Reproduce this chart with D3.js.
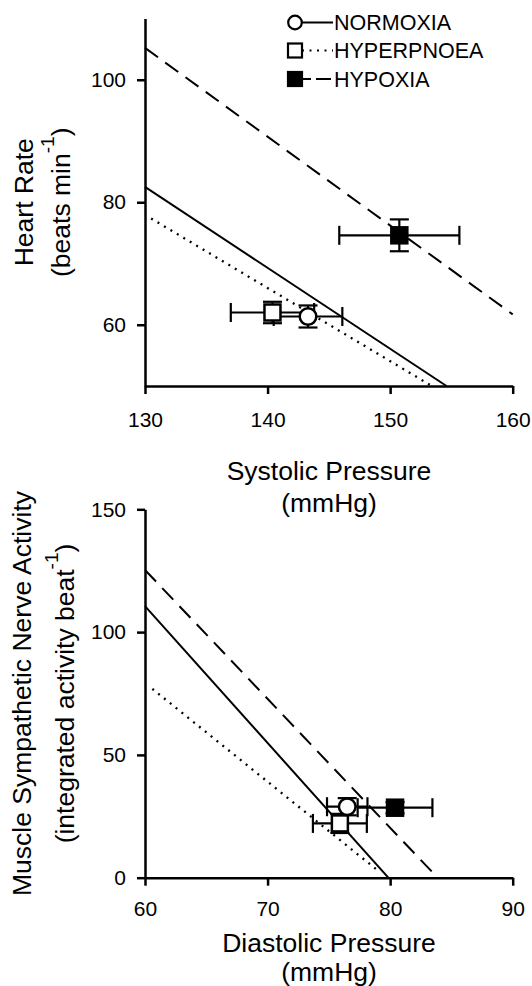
<!DOCTYPE html>
<html>
<head>
<meta charset="utf-8">
<script src="https://cdn.jsdelivr.net/npm/d3@7"></script>
<style>
body { margin: 0; background: #fff; }
svg text { font-family: "Liberation Sans", Arial, sans-serif; fill: #000; }
.axis path, .axis line { stroke: #000; stroke-width: 2.5; }
</style>
</head>
<body>
<svg id="chart" width="532" height="986"></svg>
<script>
// conditions, in legend order
var conditions = ["NORMOXIA", "HYPERPNOEA", "HYPOXIA"];

// top panel: systolic pressure vs heart rate (mean and SE)
var sbpMean = [143.3, 140.4, 150.75];
var sbpSE = [2.8, 3.4, 4.9];
var hrMean = [61.35, 62.0, 74.6];
var hrSE = [1.8, 1.75, 2.6];
// regression line ends, [sbp, hr]
var hrLineFrom = [[130, 82.5], [130.5, 77.35], [130, 105.2]];
var hrLineTo = [[154.6, 50], [153.4, 50], [160, 61.7]];

// bottom panel: diastolic pressure vs MSNA
var dbpMean = [76.5, 75.9, 80.4];
var dbpSE = [1.65, 2.2, 3.05];
var msnaMean = [28.9, 22.1, 28.5];
var msnaSE = [3.5, 3.9, 2.3];
var msnaLineFrom = [[60, 110.6], [60.6, 76.9], [60, 125.3]];
var msnaLineTo = [[79.85, 0], [79.1, 2.5], [83.4, 2.5]];

var sbpTicks = [130, 140, 150, 160];
var hrTicks = [60, 80, 100];
var dbpTicks = [60, 70, 80, 90];
var msnaTicks = [0, 50, 100, 150];

var dashes = [null, "2,5.5", "16,9"];
var symbols = ["circle", "square", "square"];
var fills = ["#fff", "#fff", "#000"];

var svg = d3.select("#chart");

function drawPanel(opt) {
    var x = d3.scaleLinear().domain(opt.xDomain).range([145, 512.7]);
    var y = d3.scaleLinear().domain(opt.yDomain).range(opt.yRange);
    var g = svg.append("g");

    // regression lines
    g.selectAll("line.fit")
        .data(conditions)
        .enter()
        .append("line")
        .attr("class", "fit")
        .attr("x1", function(d, i) { return x(opt.lineFrom[i][0]); })
        .attr("y1", function(d, i) { return y(opt.lineFrom[i][1]); })
        .attr("x2", function(d, i) { return x(opt.lineTo[i][0]); })
        .attr("y2", function(d, i) { return y(opt.lineTo[i][1]); })
        .attr("stroke", "#000")
        .attr("stroke-width", function(d, i) { return i == 1 ? 2.3 : 2; })
        .attr("stroke-dasharray", function(d, i) { return dashes[i]; });

    // axes
    var xAxis = d3.axisBottom(x).tickValues(opt.xTicks)
        .tickSize(8).tickSizeOuter(0).tickPadding(opt.xPad);
    var yAxis = d3.axisLeft(y).tickValues(opt.yTicks)
        .tickSize(8).tickSizeOuter(0).tickPadding(11);
    g.append("g").attr("class", "axis")
        .attr("transform", "translate(0," + opt.yRange[0] + ")")
        .call(xAxis);
    g.append("g").attr("class", "axis")
        .attr("transform", "translate(145,0)")
        .call(yAxis);
    g.selectAll(".axis text").attr("font-size", 21)
        .style("font-family", "'Liberation Sans', Arial, sans-serif");

    // error bars
    var cap = 9.5;
    conditions.forEach(function(c, i) {
        var cx = x(opt.xMean[i]), cy = y(opt.yMean[i]);
        var xl = x(opt.xMean[i] - opt.xSE[i]), xr = x(opt.xMean[i] + opt.xSE[i]);
        var yt = y(opt.yMean[i] + opt.ySE[i]), yb = y(opt.yMean[i] - opt.ySE[i]);
        var eb = g.append("g").attr("stroke", "#000").attr("stroke-width", 2.2);
        eb.append("line").attr("x1", xl).attr("x2", xr).attr("y1", cy).attr("y2", cy);
        eb.append("line").attr("x1", xl).attr("x2", xl).attr("y1", cy - cap).attr("y2", cy + cap);
        eb.append("line").attr("x1", xr).attr("x2", xr).attr("y1", cy - cap).attr("y2", cy + cap);
        eb.append("line").attr("x1", cx).attr("x2", cx).attr("y1", yt).attr("y2", yb);
        eb.append("line").attr("x1", cx - cap).attr("x2", cx + cap).attr("y1", yt).attr("y2", yt);
        eb.append("line").attr("x1", cx - cap).attr("x2", cx + cap).attr("y1", yb).attr("y2", yb);
    });

    // markers, drawn from the last condition so the circle sits on top
    [2, 1, 0].forEach(function(i) {
        var cx = x(opt.xMean[i]), cy = y(opt.yMean[i]);
        if (symbols[i] == "circle") {
            g.append("circle").attr("cx", cx).attr("cy", cy).attr("r", 8.3)
                .attr("fill", fills[i]).attr("stroke", "#000").attr("stroke-width", 2.5);
        } else {
            g.append("rect").attr("x", cx - 8).attr("y", cy - 8)
                .attr("width", 16).attr("height", 16)
                .attr("fill", fills[i]).attr("stroke", "#000").attr("stroke-width", 2.5);
        }
    });

    // x title
    var xt = g.append("text").attr("text-anchor", "middle").attr("font-size", 26.5);
    xt.append("tspan").attr("x", 329).attr("y", opt.xTitleY[0]).text(opt.xTitle);
    xt.append("tspan").attr("x", 329).attr("y", opt.xTitleY[1]).text("(mmHg)");

    // y title, two rotated lines
    var yc = (opt.yRange[0] + opt.yRange[1]) / 2;
    g.append("text").attr("text-anchor", "middle").attr("font-size", 26.5)
        .attr("transform", "translate(" + opt.yTitleX[0] + "," + yc + ") rotate(-90)")
        .text(opt.yTitle);
    var t2 = g.append("text").attr("text-anchor", "middle").attr("font-size", 26.5)
        .attr("transform", "translate(" + opt.yTitleX[1] + "," + yc + ") rotate(-90)");
    t2.append("tspan").text(opt.yUnit);
    t2.append("tspan").attr("font-size", 19).attr("dy", -16).text("-1");
    t2.append("tspan").attr("font-size", 26.5).attr("dy", 16).text(")");
}

drawPanel({
    xDomain: [130, 160], yDomain: [50, 110], yRange: [386, 18.5],
    xTicks: sbpTicks, yTicks: hrTicks, xPad: 18.5,
    xMean: sbpMean, xSE: sbpSE, yMean: hrMean, ySE: hrSE,
    lineFrom: hrLineFrom, lineTo: hrLineTo,
    xTitle: "Systolic Pressure", xTitleY: [480, 512],
    yTitle: "Heart Rate", yUnit: "(beats min", yTitleX: [33, 70]
});

drawPanel({
    xDomain: [60, 90], yDomain: [0, 150], yRange: [877.7, 509.3],
    xTicks: dbpTicks, yTicks: msnaTicks, xPad: 15.5,
    xMean: dbpMean, xSE: dbpSE, yMean: msnaMean, ySE: msnaSE,
    lineFrom: msnaLineFrom, lineTo: msnaLineTo,
    xTitle: "Diastolic Pressure", xTitleY: [952, 981],
    yTitle: "Muscle Sympathetic Nerve Activity", yUnit: "(integrated activity beat", yTitleX: [31, 74]
});

// legend
var legendY = [22.5, 50.5, 79];
var legendDash = [null, "2,5.5", "9,5,15"];
var legend = svg.append("g");
conditions.forEach(function(c, i) {
    legend.append("line")
        .attr("x1", 302).attr("x2", 333)
        .attr("y1", legendY[i]).attr("y2", legendY[i])
        .attr("stroke", "#000").attr("stroke-width", 2)
        .attr("stroke-dasharray", legendDash[i]);
    if (symbols[i] == "circle") {
        legend.append("circle").attr("cx", 295).attr("cy", legendY[i]).attr("r", 6.8)
            .attr("fill", fills[i]).attr("stroke", "#000").attr("stroke-width", 2.2);
    } else {
        legend.append("rect").attr("x", 288).attr("y", legendY[i] - 7)
            .attr("width", 14).attr("height", 14)
            .attr("fill", fills[i]).attr("stroke", "#000").attr("stroke-width", 2.2);
    }
    legend.append("text").attr("x", 334).attr("y", legendY[i] + 7.5)
        .attr("font-size", 21.5).text(c);
});
</script>
</body>
</html>
